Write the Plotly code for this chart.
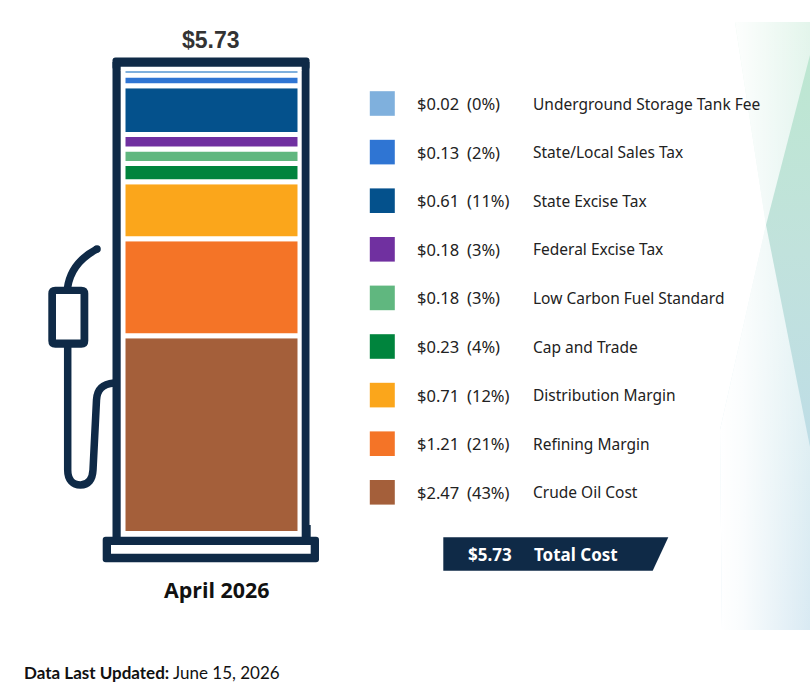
import plotly.graph_objects as go

# values top to bottom, same order as the legend
labels = ["Underground Storage Tank Fee", "State/Local Sales Tax", "State Excise Tax",
          "Federal Excise Tax", "Low Carbon Fuel Standard", "Cap and Trade",
          "Distribution Margin", "Refining Margin", "Crude Oil Cost"]
costs = [0.02, 0.13, 0.61, 0.18, 0.18, 0.23, 0.71, 1.21, 2.47]
shares = [0, 2, 11, 3, 3, 4, 12, 21, 43]
colors = ["#7FB0DD", "#2F75D3", "#04518C", "#7030A0", "#60B77F",
          "#00843D", "#FBA61B", "#F47427", "#A45F3A"]
total = "$5.73"
period = "April 2026"
updated = "June 15, 2026"

NAVY = "#0F2A47"
LEGEND_FONT = "Noto Sans"
PX_PER_DOLLAR = 80.1

fig = go.Figure()


def band(xs, ys, direction, scale):
    # gradient polygon for the pale backdrop on the right
    fig.add_trace(go.Scatter(x=xs, y=ys, yaxis="y2", mode="lines", fill="toself",
                             line=dict(width=0), hoverinfo="skip", showlegend=False,
                             fillgradient=dict(type=direction, colorscale=scale)))


# backdrop, vertical colour first then a white fade from the left
pale_x = [735, 810, 810, 722, 720, 766]
pale_y = [22, 22, 630, 630, 430, 225]
band(pale_x, pale_y, "vertical", [[0, "#D9EAF3"], [0.5, "#E3F2F3"], [1, "#E3F5EB"]])
band(pale_x, pale_y, "horizontal", [[0, "rgba(255,255,255,1)"], [0.25, "rgba(255,255,255,0.85)"],
                                    [1, "rgba(255,255,255,0)"]])
dark_x = [810, 766, 810]
dark_y = [55, 225, 447]
band(dark_x, dark_y, "vertical", [[0, "#BEDDE6"], [0.5, "#C1E2DC"], [1, "#BDE7D1"]])

# stacked pump bars, white outline makes the gaps
bottom = 0
for name, cost, color in zip(labels[::-1], costs[::-1], colors[::-1]):
    is_thin = cost < 0.05
    fig.add_trace(go.Bar(x=[211.5], y=[cost], base=[bottom + (0.03 if is_thin else 0)],
                         width=[177 if not is_thin else 172],
                         marker=dict(color=color, line=dict(color="white", width=0 if is_thin else 5)),
                         name=name, showlegend=False, hoverinfo="skip"))
    bottom += cost


def box(x0, y0, x1, y1, color):
    fig.add_shape(type="rect", x0=x0, y0=y0, x1=x1, y1=y1, xref="x", yref="y2",
                  fillcolor=color, line_width=0)


def rounded(x0, y0, x1, y1, r, color):
    path = (f"M {x0+r} {y0} L {x1-r} {y0} Q {x1} {y0} {x1} {y0+r} L {x1} {y1-r} Q {x1} {y1} {x1-r} {y1} "
            f"L {x0+r} {y1} Q {x0} {y1} {x0} {y1-r} L {x0} {y0+r} Q {x0} {y0} {x0+r} {y0} Z")
    fig.add_shape(type="path", path=path, xref="x", yref="y2", fillcolor=color, line_width=0)


def hose(path):
    fig.add_shape(type="path", path=path, xref="x", yref="y2", line=dict(color=NAVY, width=7.5))


# pump frame: top bar and two sides, hollow so the bars stay visible
rounded(112.5, 57.5, 309.5, 70, 3, NAVY)
box(112.5, 62, 120.7, 540, NAVY)
box(301.7, 62, 309.5, 525, NAVY)
box(301.7, 525, 310.7, 540, NAVY)
box(120.7, 66.7, 301.7, 70.5, "white")
rounded(102.7, 536.7, 319, 562.3, 3, NAVY)
box(111, 545, 310.7, 553.7, "white")

# nozzle and hose
hose("M 97 249 C 80 258 70 270 67.5 288")
fig.add_shape(type="circle", x0=93.2, y0=245.2, x1=100.8, y1=252.8, xref="x", yref="y2",
              fillcolor=NAVY, line_width=0)
rounded(48.3, 286.7, 88.3, 347.7, 7, NAVY)
box(56, 294, 80.5, 339.5, "white")
hose("M 67.7 345 L 67.7 470 C 67.7 480 73 485 80.5 485 C 88 485 92.5 480 93 470 "
     "L 96.5 400 C 97 390 102 384 114 383")

# legend rows
row_y = 103.5
for name, cost, share, color in zip(labels, costs, shares, colors):
    box(369.8, row_y - 12.3, 394.8, row_y + 12.3, color)
    for x, text, size in [(415, f"${cost:.2f}", 16.5), (464.5, f"({share}%)", 16.5), (531, name, 15.5)]:
        fig.add_annotation(x=x, y=row_y, xref="x", yref="y2", text=text, showarrow=False, xanchor="left",
                           font=dict(family=LEGEND_FONT, size=size, color="#222222"))
    row_y += 48.6

# total banner
fig.add_shape(type="path", path="M 443.3 537.3 L 668.3 537.3 L 652.7 570.7 L 443.3 570.7 Z",
              xref="x", yref="y2", fillcolor=NAVY, line_width=0)
for x, text in [(466, total), (532, "Total Cost")]:
    fig.add_annotation(x=x, y=554.5, xref="x", yref="y2", text=f"<b>{text}</b>", showarrow=False,
                       xanchor="left", font=dict(family=LEGEND_FONT, size=17, color="white"))

fig.add_annotation(x=211, y=40, xref="x", yref="y2", text=f"<b>{total}</b>", showarrow=False,
                   font=dict(family="Liberation Sans", size=23, color="#333333"))
fig.add_annotation(x=217, y=589.5, xref="x", yref="y2", text=f"<b>{period}</b>", showarrow=False,
                   font=dict(family="Open Sans", size=21.4, color="#111111"))
fig.add_annotation(x=22, y=672, xref="x", yref="y2", xanchor="left", showarrow=False,
                   text=f"<b>Data Last Updated:</b> {updated}",
                   font=dict(family="Lato", size=17, color="#111111"))

fig.update_layout(
    width=810, height=693, margin=dict(l=0, r=0, t=0, b=0), barmode="overlay",
    paper_bgcolor="white", plot_bgcolor="white", showlegend=False,
    xaxis=dict(range=[0, 810], visible=False),
    # zero sits at pixel row 533.5
    yaxis=dict(range=[(533.5 - 693) / PX_PER_DOLLAR, 533.5 / PX_PER_DOLLAR], visible=False),
    yaxis2=dict(range=[693, 0], overlaying="y", visible=False),
)
fig.write_html("out.html", config={"displayModeBar": False},
               post_script="document.body.style.margin='0';")
